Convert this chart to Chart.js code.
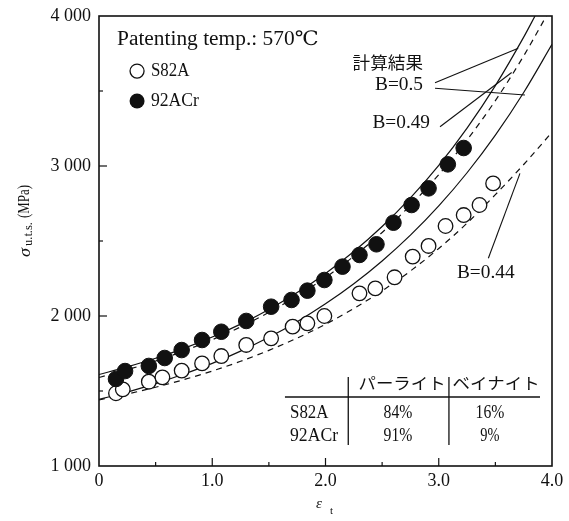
<!DOCTYPE html>
<html>
<head>
<meta charset="utf-8">
<script src="https://cdn.jsdelivr.net/npm/chart.js@4/dist/chart.umd.min.js"></script>
<style>
  html, body { margin: 0; padding: 0; background: #fff; }
  #wrap { width: 569px; height: 521px; }
</style>
</head>
<body>
<div id="wrap"><canvas id="c" width="569" height="521"></canvas></div>
<script>
// ---- measured tensile strength vs. true strain ----
const S82A_eps   = [0.15, 0.21, 0.44, 0.56, 0.73, 0.91, 1.08, 1.30, 1.52, 1.71, 1.84, 1.99, 2.30, 2.44, 2.61, 2.77, 2.91, 3.06, 3.22, 3.36, 3.48];
const S82A_sigma = [1485, 1511, 1562, 1591, 1636, 1684, 1733, 1807, 1851, 1929, 1951, 2000, 2151, 2184, 2258, 2396, 2467, 2600, 2673, 2740, 2884];

const ACr92_eps   = [0.15, 0.23, 0.44, 0.58, 0.73, 0.91, 1.08, 1.30, 1.52, 1.70, 1.84, 1.99, 2.15, 2.30, 2.45, 2.60, 2.76, 2.91, 3.08, 3.22];
const ACr92_sigma = [1580, 1633, 1667, 1720, 1773, 1840, 1895, 1967, 2062, 2107, 2169, 2240, 2329, 2407, 2478, 2622, 2740, 2851, 3011, 3120];

// ---- calculated curves (計算結果) ----
const calcA_eps   = [0, 0.25, 0.5, 0.75, 1.0, 1.25, 1.5, 1.75, 2.0, 2.25, 2.5, 2.75, 3.0, 3.25, 3.5, 3.75, 3.85];
const calcA_sigma = [1610, 1661, 1718, 1784, 1860, 1946, 2044, 2156, 2284, 2430, 2597, 2787, 3004, 3253, 3536, 3859, 4000];   // B=0.5, 92ACr

const calcB_eps   = [0, 0.25, 0.5, 0.75, 1.0, 1.25, 1.5, 1.75, 2.0, 2.25, 2.5, 2.75, 3.0, 3.25, 3.5, 3.75, 3.95];
const calcB_sigma = [1590, 1642, 1700, 1767, 1842, 1927, 2024, 2133, 2257, 2398, 2557, 2738, 2942, 3174, 3436, 3734, 4000];   // B=0.49

const calcC_eps   = [0, 0.25, 0.5, 0.75, 1.0, 1.25, 1.5, 1.75, 2.0, 2.25, 2.5, 2.75, 3.0, 3.25, 3.5, 3.75, 4.0];
const calcC_sigma = [1444, 1493, 1549, 1613, 1684, 1766, 1858, 1962, 2081, 2215, 2367, 2539, 2734, 2955, 3206, 3490, 3811];   // B=0.5, S82A

const calcD_eps   = [0, 0.25, 0.5, 0.75, 1.0, 1.25, 1.5, 1.75, 2.0, 2.25, 2.5, 2.75, 3.0, 3.25, 3.5, 3.75, 4.0];
const calcD_sigma = [1440, 1480, 1525, 1576, 1633, 1698, 1771, 1853, 1945, 2050, 2168, 2300, 2450, 2619, 2809, 3010, 3225];   // B=0.44

// ---- axis tick labels ----
const xTickValues = [0, 1, 2, 3, 4];
const xTickText   = ['0', '1.0', '2.0', '3.0', '4.0'];
const yTickValues = [1000, 2000, 3000, 4000];
const yTickText   = ['1 000', '2 000', '3 000', '4 000'];

// ---- microstructure table ----
const phaseHeads = ['パーライト', 'ベイナイト'];
const steels     = ['S82A', '92ACr'];
const pearlite   = ['84%', '91%'];
const bainite    = ['16%', '9%'];

const SERIF = '"Liberation Serif", "DejaVu Serif", serif';
const JP    = '"Noto Sans CJK JP", sans-serif';

const pts = (xs, ys) => xs.map((v, i) => ({ x: v, y: ys[i] }));

// text squeezed/stretched horizontally so that it spans a given width
function fitText(ctx, s, px, py, align, font, width) {
  ctx.save();
  ctx.font = font;
  const w = ctx.measureText(s).width;
  ctx.translate(px, py);
  ctx.scale(width / w, 1);
  ctx.textAlign = align;
  ctx.textBaseline = 'middle';
  ctx.fillText(s, 0, 0);
  ctx.restore();
}
// half-width latin text: every character takes one fixed cell
const hwText = (ctx, s, px, py, align, size, cell) =>
  fitText(ctx, s, px, py, align, size + 'px ' + SERIF, s.length * cell);
const jpText = (ctx, s, px, py, align, size, cell) =>
  fitText(ctx, s, px, py, align, size + 'px ' + JP, s.length * cell);

function seg(ctx, x1, y1, x2, y2) {
  ctx.beginPath(); ctx.moveTo(x1, y1); ctx.lineTo(x2, y2); ctx.stroke();
}

const figurePlugin = {
  id: 'figure',
  afterDraw(chart) {
    const { ctx, chartArea: a, scales: { x, y } } = chart;
    const X = v => x.getPixelForValue(v);
    const Y = v => y.getPixelForValue(v);
    ctx.save();
    ctx.strokeStyle = '#111';
    ctx.fillStyle = '#111';

    // frame
    ctx.lineWidth = 1.6;
    ctx.strokeRect(a.left, a.top, a.right - a.left, a.bottom - a.top);

    // inward tick marks
    ctx.lineWidth = 1.2;
    x.ticks.forEach(t => {
      if (t.value <= 0 || t.value >= 4) return;
      const L = Math.abs(t.value - Math.round(t.value)) < 1e-6 ? 8 : 4;
      seg(ctx, X(t.value), a.bottom, X(t.value), a.bottom - L);
    });
    y.ticks.forEach(t => {
      if (t.value <= 1000 || t.value >= 4000) return;
      const L = t.value % 1000 === 0 ? 8 : 4;
      seg(ctx, a.left, Y(t.value), a.left + L, Y(t.value));
    });

    // y axis title: σ u.t.s. (MPa)
    ctx.save();
    ctx.translate(25, 221);
    ctx.rotate(-Math.PI / 2);
    const wSig = 9, wSub = 24, wUnit = 33, gap1 = 2, gap2 = 4;
    let cx = -(wSig + gap1 + wSub + gap2 + wUnit) / 2;
    fitText(ctx, 'σ', cx, 1, 'left', 'italic 16px ' + SERIF, wSig); cx += wSig + gap1;
    fitText(ctx, 'u.t.s.', cx, 4, 'left', '12px ' + SERIF, wSub); cx += wSub + gap2;
    fitText(ctx, '(MPa)', cx, 0, 'left', '16px ' + SERIF, wUnit);
    ctx.restore();

    // x axis title: ε t
    ctx.textBaseline = 'middle';
    ctx.textAlign = 'left';
    ctx.font = 'italic 15px ' + SERIF;
    ctx.fillText('ε', 316, 504);
    ctx.font = '11px ' + SERIF;
    ctx.fillText('t', 330, 511);

    // heat treatment note and legend
    hwText(ctx, 'Patenting temp.: 570℃', X(0.159), Y(3840), 'left', 20, 9.6);
    ctx.lineWidth = 1.3;
    ctx.beginPath(); ctx.arc(X(0.336), Y(3633), 7, 0, Math.PI * 2);
    ctx.fillStyle = '#fff'; ctx.fill(); ctx.stroke();
    ctx.fillStyle = '#111';
    ctx.beginPath(); ctx.arc(X(0.336), Y(3433), 7.5, 0, Math.PI * 2); ctx.fill();
    hwText(ctx, 'S82A', X(0.459), Y(3633), 'left', 18, 9.6);
    hwText(ctx, '92ACr', X(0.459), Y(3433), 'left', 18, 9.6);

    // curve labels with leader lines
    jpText(ctx, '計算結果', X(2.861), Y(3687), 'right', 17, 17.6);
    hwText(ctx, 'B=0.5', X(2.861), Y(3540), 'right', 18, 9.6);
    hwText(ctx, 'B=0.49', X(2.923), Y(3287), 'right', 18, 9.6);
    hwText(ctx, 'B=0.44', X(3.161), Y(2287), 'left', 18, 9.6);
    ctx.lineWidth = 1.1;
    seg(ctx, X(2.967), Y(3555), X(3.702), Y(3785));
    seg(ctx, X(2.967), Y(3518), X(3.761), Y(3473));
    seg(ctx, X(3.011), Y(3262), X(3.644), Y(3623));
    seg(ctx, X(3.438), Y(2385), X(3.717), Y(2951));

    // microstructure table
    ctx.lineWidth = 1.3;
    seg(ctx, X(1.642), Y(1460), X(3.894), Y(1460));
    seg(ctx, X(2.201), Y(1593), X(2.201), Y(1140));
    seg(ctx, X(3.090), Y(1593), X(3.090), Y(1140));
    jpText(ctx, phaseHeads[0], X(2.676), Y(1553), 'center', 16, 17.4);
    jpText(ctx, phaseHeads[1], X(3.506), Y(1553), 'center', 16, 17.4);
    const rowsY = [1353, 1200];
    steels.forEach((s, i) => {
      hwText(ctx, s, X(1.687), Y(rowsY[i]), 'left', 18, 9.6);
      hwText(ctx, pearlite[i], X(2.640), Y(rowsY[i]), 'center', 18, 9.6);
      hwText(ctx, bainite[i], X(3.452), Y(rowsY[i]), 'center', 18, 9.6);
    });

    ctx.restore();
  }
};

const lineStyle = (dash) => ({
  showLine: true,
  pointRadius: 0,
  pointHoverRadius: 0,
  borderColor: '#111',
  borderWidth: 1.2,
  borderDash: dash,
  tension: 0.4,
  cubicInterpolationMode: 'monotone',
  fill: false,
  order: 2
});

new Chart(document.getElementById('c'), {
  type: 'scatter',
  data: {
    datasets: [
      { label: 'B=0.5 (92ACr)', data: pts(calcA_eps, calcA_sigma), ...lineStyle([]) },
      { label: 'B=0.49', data: pts(calcB_eps, calcB_sigma), ...lineStyle([6, 5]) },
      { label: 'B=0.5 (S82A)', data: pts(calcC_eps, calcC_sigma), ...lineStyle([]) },
      { label: 'B=0.44', data: pts(calcD_eps, calcD_sigma), ...lineStyle([6, 5]) },
      {
        label: 'S82A', data: pts(S82A_eps, S82A_sigma),
        pointStyle: 'circle', pointRadius: 7.3, pointBackgroundColor: '#fff',
        pointBorderColor: '#111', pointBorderWidth: 1.3, order: 1
      },
      {
        label: '92ACr', data: pts(ACr92_eps, ACr92_sigma),
        pointStyle: 'circle', pointRadius: 7.8, pointBackgroundColor: '#111',
        pointBorderColor: '#111', pointBorderWidth: 1, order: 0
      }
    ]
  },
  options: {
    responsive: false,
    animation: false,
    events: [],
    layout: { padding: { left: 0, top: 16, right: 17, bottom: 0 } },
    plugins: { legend: { display: false }, tooltip: { enabled: false } },
    scales: {
      x: {
        type: 'linear', min: 0, max: 4,
        grid: { display: false },
        border: { display: false },
        ticks: {
          stepSize: 0.5, autoSkip: false, maxRotation: 0, padding: -4,
          color: '#111', font: { family: SERIF, size: 18 },
          callback: v => { const i = xTickValues.findIndex(t => Math.abs(t - v) < 1e-6); return i >= 0 ? xTickText[i] : ''; }
        },
        afterFit: s => { s.height = 55; }
      },
      y: {
        type: 'linear', min: 1000, max: 4000,
        grid: { display: false },
        border: { display: false },
        ticks: {
          stepSize: 500, autoSkip: false, padding: 0,
          color: '#111', font: { family: SERIF, size: 18 },
          callback: v => { const i = yTickValues.indexOf(v); return i >= 0 ? yTickText[i] : ''; }
        },
        afterFit: s => { s.width = 99; }
      }
    }
  },
  plugins: [figurePlugin]
});
</script>
</body>
</html>
